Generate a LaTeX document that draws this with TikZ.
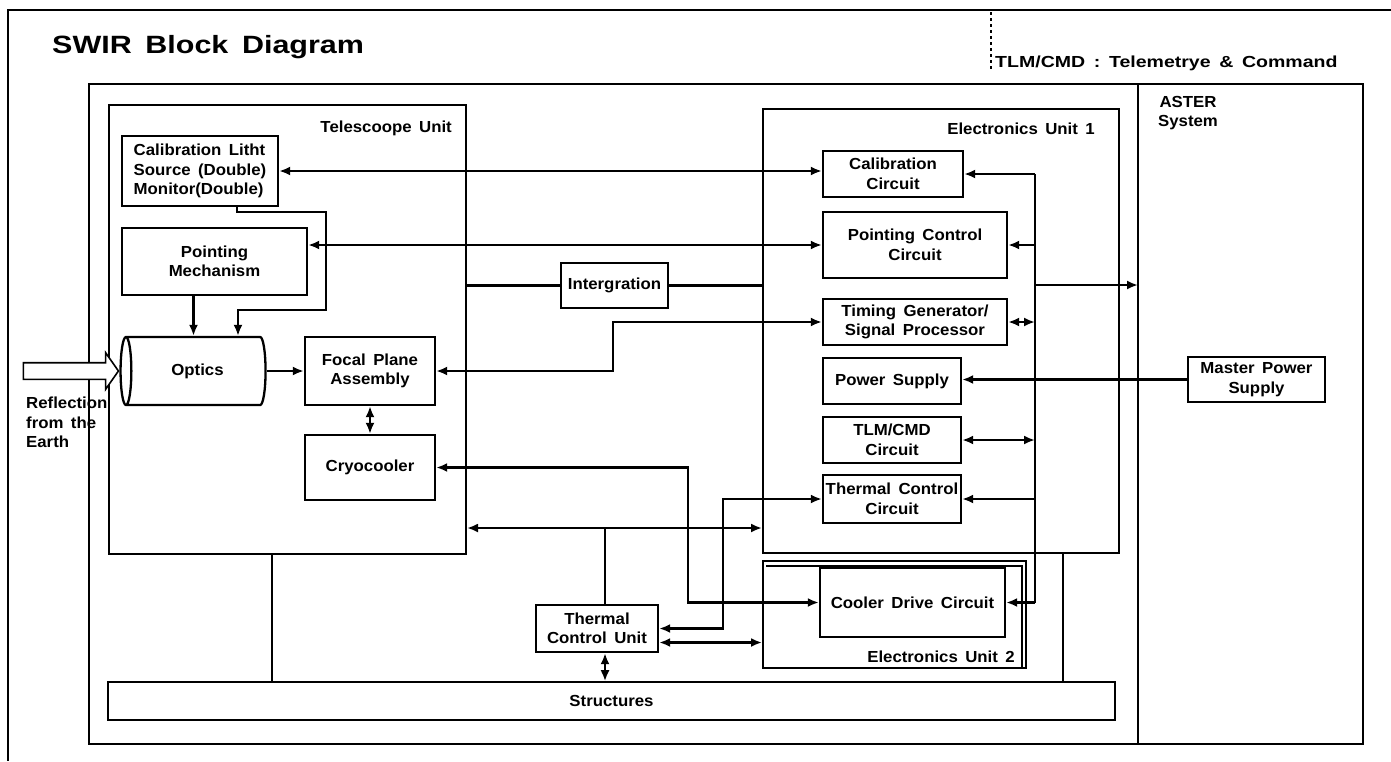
\documentclass[tikz,border=0pt]{standalone}
\usepackage{fontspec}
\setmainfont{Liberation Sans}[FakeStretch=1.05,WordSpace=1.6]
\usepackage{tikz}
\usetikzlibrary{arrows.meta,positioning,shapes.geometric,shapes.arrows,calc,fit}
\newcommand\blkfont{\fontsize{16}{19.5}\selectfont\bfseries}
\newcommand\ttlfont{\fontsize{25}{30}\selectfont\bfseries\addfontfeature{FakeStretch=1.22}}
\newcommand\keyfont{\fontsize{16}{19.5}\selectfont\bfseries\addfontfeature{FakeStretch=1.22}}

\begin{document}
\begin{tikzpicture}[x=1pt,y=-1pt,
    b/.style={draw,line width=2.3pt,align=center,font=\blkfont,inner sep=1pt},
    frm/.style={draw,line width=2pt,anchor=north west,inner sep=0pt},
    lbl/.style={font=\blkfont,inner sep=0pt},
    ln/.style={line width=2.2pt},
    >={Latex[length=11pt,width=9pt]}]
  \useasboundingbox (0,0) rectangle (1391,761);
  % frames
  \draw[line width=1.6pt] (1391,10) -- (8,10) -- (8,761);
  \draw[dashed,line width=1.2pt] (991,12) -- (991,70);
  \node[frm,minimum width=1274pt,minimum height=660pt] (sys) at (88,83) {};
  \node[frm,minimum width=357pt,minimum height=449pt] (tel) at (108,104) {};
  \node[frm,minimum width=356pt,minimum height=444pt] (eu1) at (762,108) {};
  \node[frm,minimum width=263pt,minimum height=107pt] (eu2) at (762,560) {};
  \draw[line width=1.4pt] ([shift={(4pt,-6pt)}]eu2.north west) -| ([xshift=-5pt]eu2.south east);
  \coordinate (ad) at (1138,0);
  \draw[ln] (ad |- sys.north) -- (ad |- sys.south);
  % labels
  \node[font=\ttlfont,anchor=west,inner sep=0pt] (ttl) at (52,47) {SWIR Block Diagram};
  \node[font=\keyfont,inner sep=0pt,anchor=west] (tlmk) at (995,63) {TLM/CMD : Telemetrye \& Command};
  \node[lbl,anchor=north east] (telL) at ([shift={(-15pt,-17pt)}]tel.north east) {Telescoope Unit};
  \node[lbl,anchor=north east] (eu1L) at ([shift={(-25pt,-15pt)}]eu1.north east) {Electronics Unit 1};
  \node[lbl,anchor=south east] (eu2L) at ([shift={(-12pt,6pt)}]eu2.south east) {Electronics Unit 2};
  \node[lbl,align=center] (astL) at (1188,113) {ASTER\\System};
  % telescope unit
  \node[b,minimum width=156pt,minimum height=70pt,align=left] (cal) at (200,171) {Calibration Litht\\Source (Double)\\Monitor(Double)};
  \node[b,minimum width=185pt,minimum height=67pt] (pm) at (214.5,261.5) {Pointing\\Mechanism};
  \node[draw,line width=2.3pt,cylinder,shape border rotate=180,aspect=0.5,minimum width=68pt,minimum height=145pt,font=\blkfont] (opt) at (197.5,371) {Optics};
  \node[b,minimum width=130pt,minimum height=68pt] (fpa) at (370,371) {Focal Plane\\Assembly};
  \node[b,minimum width=130pt,minimum height=65pt] (cryo) at (370,467.5) {Cryocooler};
  \node[b,minimum width=107pt,minimum height=45pt] (integ) at (614.5,285.5) {Intergration};
  % electronics unit 1
  \node[b,minimum width=140pt,minimum height=46pt] (cc) at (893,174) {Calibration\\Circuit};
  \node[b,minimum width=184pt,minimum height=66pt] (pcc) at (915,245) {Pointing Control\\Circuit};
  \node[b,minimum width=184pt,minimum height=46pt] (tg) at (915,322) {Timing Generator/\\Signal Processor};
  \node[b,minimum width=138pt,minimum height=46pt] (ps) at (892,381) {Power Supply};
  \node[b,minimum width=138pt,minimum height=46pt] (tlm) at (892,440) {TLM/CMD\\Circuit};
  \node[b,minimum width=138pt,minimum height=48pt] (tcc) at (892,499) {Thermal Control\\Circuit};
  \node[b,minimum width=185pt,minimum height=69pt] (cdc) at (912.5,602.5) {Cooler Drive Circuit};
  \node[b,minimum width=122pt,minimum height=47pt] (tcu) at (597,628.5) {Thermal\\Control Unit};
  \node[b,line width=1.6pt,minimum width=1007pt,minimum height=38pt] (str) at (611.5,701) {Structures};
  \node[b,minimum width=137pt,minimum height=45pt] (mps) at (1256.5,379.5) {Master Power\\Supply};
  % input light
  \node[single arrow,draw,fill=white,line width=1.6pt,minimum height=95pt,single arrow head extend=10pt,
        single arrow tip angle=110,inner sep=7.5pt,anchor=tip] (inp) at (opt.west) {};
  \node[lbl,align=left,anchor=north west] (refl) at (26,397) {Reflection\\from the\\Earth};
  % connectors
  \draw[ln,<->] (cal.east) -- (cal.east -| cc.west);
  \draw[ln,<->] (pcc.west -| pm.east) -- (pcc.west);
  \coordinate (j1) at (613,345);
  \draw[ln,<->] (fpa.east) -| (j1) |- (tg.west);
  \coordinate (j2) at (688,540);
  \draw[ln,<->] (cryo.east) -| (j2) |- (cdc.west);
  \coordinate (j3) at (605,528);
  \draw[ln,<->] (j3 -| tel.east) -- (j3 -| eu1.west);
  \draw[ln] (j3) -- (j3 |- tcu.north);
  \draw[ln,<->] (j3 |- tcu.south) -- (j3 |- str.north);
  \coordinate (j4) at (723,560);
  \draw[ln,<->] (tcu.east) -| (j4) |- (tcc.west);
  \draw[ln,<->] ([yshift=-14pt]tcu.east) -- ([yshift=-14pt]tcu.east -| eu2.west);
  \draw[ln] (integ.west -| tel.east) -- (integ.west);
  \draw[ln] (integ.east) -- (integ.east -| eu1.west);
  \draw[ln,->] ([xshift=-21pt]pm.south) -- ([xshift=-21pt]pm.south |- opt.north);
  \coordinate (k1) at (326,212); \coordinate (k2) at (238,310);
  \draw[ln,->] ([xshift=37pt]cal.south) |- (k1) |- (k2) -- (k2 |- opt.north);
  \draw[ln,->] (opt.east) -- (fpa.west);
  \draw[ln,<->] (fpa) -- (cryo);
  % bus
  \coordinate (bx) at (1035,0);
  \draw[ln] (bx |- cc.east) -- (bx |- cdc.east);
  \foreach \nm in {cc,pcc,tcc,cdc} \draw[ln,->] (bx |- \nm.east) -- (\nm.east);
  \foreach \nm in {tg,tlm} \draw[ln,<->] (bx |- \nm.east) -- (\nm.east);
  \coordinate (out) at (1138,285);
  \draw[ln,->] (out -| bx) -- (out);
  \draw[ln,->] (mps.west) -- (mps.west -| ps.east);
  % structures
  \coordinate (s1) at (272,0); \coordinate (s2) at (1063,0);
  \draw[ln] (s1 |- tel.south) -- (s1 |- str.north);
  \draw[ln] (s2 |- eu1.south) -- (s2 |- str.north);
\end{tikzpicture}
\end{document}
